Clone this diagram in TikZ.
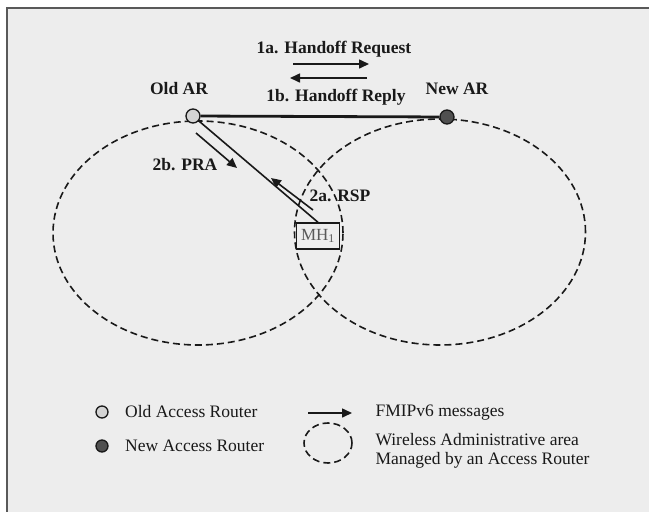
\documentclass[tikz,border=0pt]{standalone}
\usepackage{fontspec}
\setmainfont{Liberation Serif}
\usetikzlibrary{shapes.geometric, arrows.meta, positioning}
\definecolor{panelgray}{RGB}{237,237,237}
\definecolor{oldargray}{RGB}{212,212,212}
\definecolor{newargray}{RGB}{80,80,80}
\definecolor{inkgray}{RGB}{25,25,25}

\begin{document}
\begin{tikzpicture}[
    x=1pt, y=-1pt,
    every node/.style={font=\fontsize{17.5}{20}\selectfont, text=inkgray},
    lbl/.style={font=\fontsize{17.5}{20}\selectfont\bfseries},
    router/.style={circle, draw=inkgray, line width=1.3pt, inner sep=0pt, minimum size=14pt},
    area/.style={ellipse, draw=inkgray, dash pattern=on 7pt off 4pt, line width=1.6pt, inner sep=0pt},
    link/.style={draw=inkgray, line width=1.6pt},
    msg/.style={-{Triangle[length=10pt, width=9pt]}, inkgray, line width=1.6pt},
    hostbox/.style={rectangle, draw=inkgray, line width=1.4pt, minimum width=43pt,
                    minimum height=26pt, inner sep=0pt, text=black!65,
                    font=\fontsize{17}{19}\selectfont}
]
    \useasboundingbox (0,0) rectangle (649,512);
    \fill[panelgray] (7,8) rectangle (649,512);
    \draw[black!65, line width=2pt] (7,512) -- (7,8) -- (649,8);

    % coverage areas
    \node[area, minimum width=290pt, minimum height=224pt] (areaold) at (198,233) {};
    \node[area, minimum width=291pt, minimum height=226pt] (areanew) at (440,232) {};

    % routers and host
    \node[router, fill=oldargray] (oldar) at (193,116) {};
    \node[router, fill=newargray] (newar) at (447,117) {};
    \node[hostbox] (mh) at (318,236) {MH\textsubscript{1}};
    \draw[link, line width=2.8pt] (oldar) -- (newar);
    \draw[link] (oldar) -- (mh.north);

    \node[lbl] (oldlbl) at (179,89) {Old AR};
    \node[lbl] (newlbl) at (457,89) {New AR};

    % handoff messages
    \coordinate (reqs) at (293,64);
    \coordinate (reqe) at (369,64);
    \coordinate (reps) at (367,78);
    \coordinate (repe) at (290,78);
    \draw[msg] (reqs) -- (reqe);
    \draw[msg] (reps) -- (repe);
    \node[lbl] (reqlbl) at (334,49) {1a. Handoff Request};
    \node[lbl] (replbl) at (336,97) {1b. Handoff Reply};

    \coordinate (pras) at (196,133);
    \coordinate (prae) at (237,168);
    \coordinate (rsps) at (313,210);
    \coordinate (rspe) at (271,178);
    \draw[msg] (pras) -- (prae);
    \draw[msg] (rsps) -- (rspe);
    \node[lbl] (pralbl) at (185,165) {2b. PRA};
    \node[lbl] (rsplbl) at (340,196) {2a. RSP};

    % legend
    \node[router, fill=oldargray, minimum size=12pt] (keyold) at (102,412) {};
    \node[right=13pt of keyold] (keyoldtxt) {Old Access Router};
    \node[router, fill=newargray, minimum size=12pt] (keynew) at (102,446) {};
    \node[right=13pt of keynew] (keynewtxt) {New Access Router};
    \coordinate (keymsgs) at (308,413);
    \coordinate (keymsge) at (352,413);
    \draw[msg] (keymsgs) -- (keymsge);
    \node[anchor=west] (keymsgtxt) at (372,413) {FMIPv6 messages};
    \node[area, minimum width=48pt, minimum height=40pt] (keyarea) at (328,443) {};
    \node[anchor=west, align=left, font=\fontsize{17.5}{19}\selectfont] (keyareatxt) at (372,451)
        {Wireless Administrative area\\Managed by an Access Router};
\end{tikzpicture}
\end{document}
